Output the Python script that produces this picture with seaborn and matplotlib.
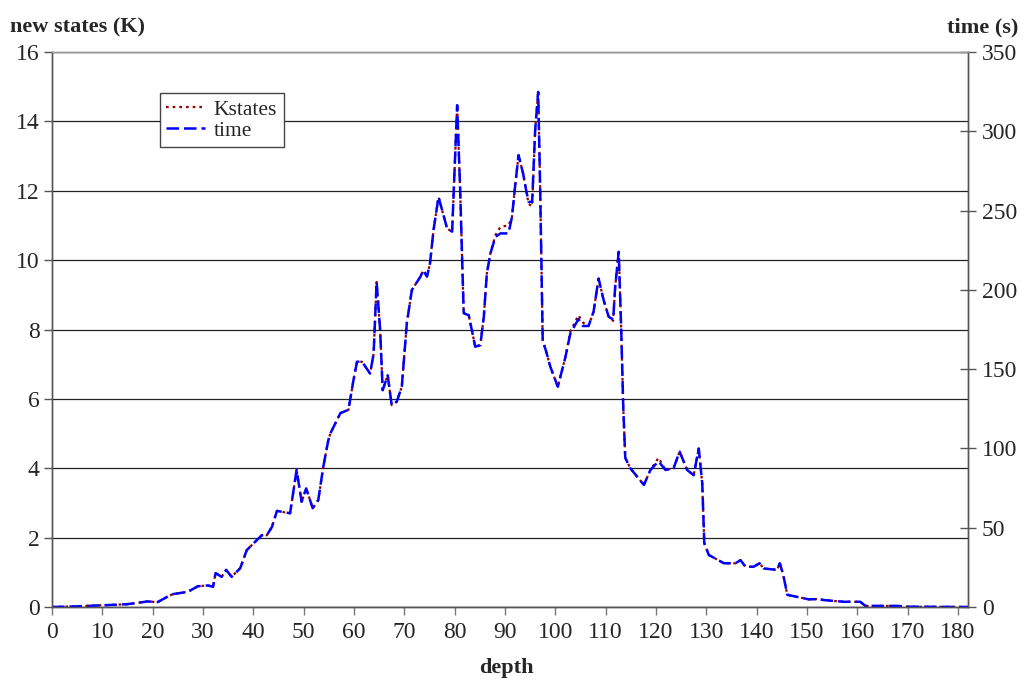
import numpy as np
import matplotlib
matplotlib.use("Agg")
import matplotlib.pyplot as plt
import seaborn as sns

# depth values (irregular steps around the spikes)
depth = [0, 5, 10, 12, 15, 17, 19, 21, 23, 24, 27, 29, 31, 32, 32.5, 33.7, 34.6, 35.7,
         37.4, 38.7, 40.7, 41.7, 42.7, 43.7, 44.7, 47.3, 48.6, 49.6, 50.5, 51.8, 52.9,
         53.9, 54.9, 55.3, 57.3, 58.9, 59.9, 60.6, 61.6, 63.2, 63.9, 64.5, 65.2, 65.7,
         66.7, 67.5, 68.5, 69.5, 70.5, 71.5, 73.2, 73.8, 74.5, 75.1, 75.8, 76.8, 78.5,
         79.5, 80.5, 81.1, 81.8, 82.8, 84.1, 85.1, 85.8, 86.4, 87.1, 88.1, 89.1, 90.7,
         91.4, 92.0, 92.7, 93.6, 94.2, 94.7, 95.4, 96.0, 96.6, 97.0, 97.5, 98.3, 99.0,
         100.5, 102.0, 103.0, 104.6, 105.5, 106.6, 107.6, 108.6, 109.6, 110.6, 111.5,
         111.9, 112.6, 113.1, 113.5, 113.9, 114.9, 117.6, 118.9, 120.5, 121.9, 123.5,
         124.7, 126.2, 127.5, 128.5, 129.2, 129.6, 130.5, 133.5, 135.8, 136.8, 137.8,
         139.4, 140.6, 141.4, 144.1, 144.6, 145.3, 146.1, 148.7, 150.4, 152.3, 153.3,
         157.3, 160.6, 161.6, 168, 170, 182]

# new states per depth, thousands
kstates = [0.0, 0.02, 0.05, 0.06, 0.08, 0.12, 0.16, 0.14, 0.3, 0.37, 0.44, 0.6, 0.62, 0.58,
           0.98, 0.87, 1.07, 0.87, 1.12, 1.64, 1.93, 2.07, 2.07, 2.31, 2.77, 2.7, 3.95,
           3.03, 3.42, 2.85, 3.08, 4.04, 4.81, 5.0, 5.59, 5.68, 6.54, 7.07, 7.07, 6.73,
           7.3, 9.37, 7.98, 6.25, 6.68, 5.82, 5.92, 6.35, 8.18, 9.14, 9.52, 9.71, 9.52,
           9.9, 10.86, 11.82, 10.91, 10.82, 14.47, 12.0, 8.47, 8.41, 7.5, 7.55, 8.37,
           9.62, 10.19, 10.72, 10.96, 11.0, 11.25, 12.11, 13.03, 12.5, 12.02, 11.62,
           11.55, 13.75, 14.87, 12.0, 7.69, 7.31, 6.93, 6.35, 7.2, 7.95, 8.41, 8.2, 8.1,
           8.51, 9.47, 8.85, 8.37, 8.25, 9.23, 10.28, 7.98, 5.77, 4.3, 4.0, 3.52, 3.95,
           4.3, 3.95, 4.0, 4.48, 3.95, 3.8, 4.57, 3.56, 1.84, 1.5, 1.26, 1.26, 1.35,
           1.16, 1.16, 1.26, 1.11, 1.07, 1.28, 0.92, 0.35, 0.27, 0.22, 0.23, 0.2, 0.15,
           0.15, 0.03, 0.03, 0.01, 0.0]

# run time per depth, seconds
time_s = [0.0, 0.4, 1.1, 1.3, 1.8, 2.6, 3.5, 3.1, 6.6, 8.1, 9.6, 13.1, 13.6, 12.7, 21.4,
          19.0, 23.4, 19.0, 24.5, 35.9, 42.2, 45.3, 45.3, 50.5, 60.6, 59.1, 86.4, 66.3,
          74.8, 62.3, 67.4, 88.4, 105.2, 109.4, 122.3, 124.3, 143.1, 154.7, 154.7, 147.2,
          159.7, 205.0, 174.6, 136.7, 146.1, 127.3, 129.5, 138.9, 178.9, 199.9, 208.3,
          212.4, 208.3, 216.6, 237.6, 258.6, 238.7, 236.7, 316.5, 262.5, 185.3, 184.0,
          164.1, 165.2, 183.1, 210.4, 222.9, 233.4, 235.6, 235.6, 246.1, 264.9, 285.0,
          273.4, 262.9, 255.5, 255.5, 300.8, 324.8, 262.5, 168.2, 159.9, 151.6, 138.9,
          157.5, 172.6, 181.6, 177.2, 177.2, 186.2, 207.2, 193.6, 183.1, 181.3, 201.9,
          224.0, 174.6, 126.2, 94.1, 87.5, 77.0, 86.4, 91.9, 86.4, 87.5, 98.0, 86.4,
          83.1, 100.0, 77.9, 40.3, 32.8, 27.6, 27.6, 29.5, 25.4, 25.4, 27.6, 24.3, 23.4,
          27.6, 20.1, 7.7, 5.9, 4.8, 5.0, 4.4, 3.3, 3.3, 0.7, 0.7, 0.2, 0.0]

sns.set_theme(style="white")
plt.rcParams["font.family"] = ["Liberation Serif", "DejaVu Serif"]

fig = plt.figure(figsize=(10.24, 6.82), dpi=100)
ax = fig.add_axes([52 / 1024, 1 - 607 / 682, 916 / 1024, 555 / 682])
ax2 = ax.twinx()

sns.lineplot(x=depth, y=kstates, ax=ax, color="#990000", linestyle=(0, (1.2, 1.8)),
             linewidth=1.6, label="Kstates", legend=False)
sns.lineplot(x=depth, y=time_s, ax=ax2, color="#0000ff", linestyle=(0, (5, 2)),
             linewidth=1.8, label="time", legend=False)

ax.set_xlim(0, 182)
ax.set_ylim(0, 16)
ax2.set_ylim(0, 350)
ax.set_xticks(range(0, 181, 10))
ax.set_yticks(range(0, 17, 2))
ax2.set_yticks(range(0, 351, 50))

ax.grid(axis="y", color="#222222", linewidth=0.9)
ax.set_axisbelow(True)

for a in (ax, ax2):
    for side in ("left", "right", "bottom"):
        a.spines[side].set_color("#555555")
        a.spines[side].set_linewidth(1.0)
    a.spines["top"].set_color("#999999")
    a.spines["top"].set_linewidth(1.0)

ax.tick_params(axis="y", direction="out", length=6, width=1, color="#555555",
               labelsize=17, pad=3, left=True)
ax.tick_params(axis="x", direction="out", length=6, width=1, color="#777777",
               labelsize=17, pad=5, bottom=True)
ax2.tick_params(axis="y", direction="inout", length=12, width=1, color="#555555",
                labelsize=17, pad=4, right=True)

ax.set_xlabel("")
ax.set_ylabel("")
ax2.set_ylabel("")

fig.text(10 / 1024, 1 - 27 / 682, "new states (K)", fontsize=16, fontweight="bold",
         va="center", ha="left")
fig.text(1018 / 1024, 1 - 27 / 682, "time (s)", fontsize=16, fontweight="bold",
         va="center", ha="right")
fig.text(506 / 1024, 1 - 668 / 682, "depth", fontsize=16, fontweight="bold",
         va="center", ha="center")

h1, l1 = ax.get_legend_handles_labels()
h2, l2 = ax2.get_legend_handles_labels()
leg = ax2.legend(h1 + h2, l1 + l2, loc="upper left",
                 bbox_to_anchor=((160 - 52) / 916, (607 - 93) / 555),
                 fontsize=15.5, frameon=True, fancybox=False, framealpha=1,
                 edgecolor="#444444", borderpad=0.3, handlelength=1.8,
                 handletextpad=0.4, labelspacing=0.05, borderaxespad=0)
leg.get_frame().set_linewidth(1.0)

fig.savefig("out.png", dpi=100)
